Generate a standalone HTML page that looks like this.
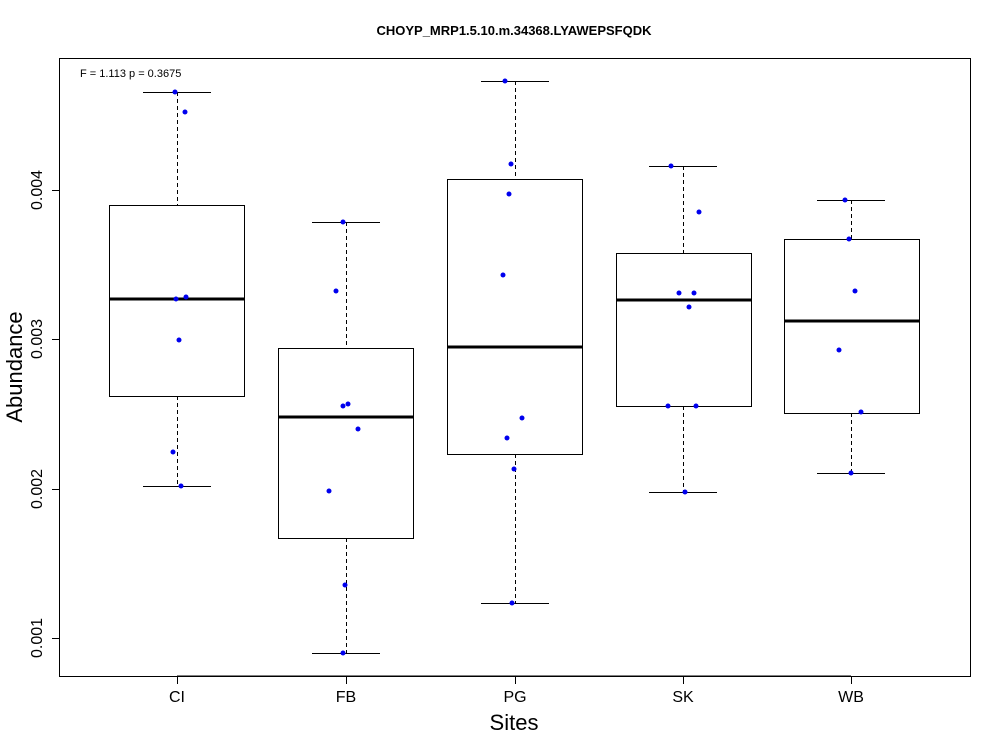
<!DOCTYPE html>
<html><head><style>body{margin:0;background:#fff}svg{display:block}text{font-family:"Liberation Sans",Arial,sans-serif}</style></head>
<body>
<svg width="1000" height="750" viewBox="0 0 1000 750">
<rect x="0" y="0" width="1000" height="750" fill="#fff"/>
<text x="514" y="35" text-anchor="middle" font-size="13" font-weight="bold">CHOYP_MRP1.5.10.m.34368.LYAWEPSFQDK</text>
<rect x="59.5" y="58.5" width="911" height="618" fill="none" stroke="#000" stroke-width="1"/>
<text x="80" y="77" font-size="11">F = 1.113 p = 0.3675</text>
<!-- y axis -->
<g stroke="#000" stroke-width="1">
<line x1="59.5" y1="190" x2="59.5" y2="638"/>
<line x1="52" y1="190.5" x2="59.5" y2="190.5"/>
<line x1="52" y1="339.5" x2="59.5" y2="339.5"/>
<line x1="52" y1="489.5" x2="59.5" y2="489.5"/>
<line x1="52" y1="638.5" x2="59.5" y2="638.5"/>
</g>
<g font-size="16">
<text transform="translate(42,190) rotate(-90)" text-anchor="middle">0.004</text>
<text transform="translate(42,339) rotate(-90)" text-anchor="middle">0.003</text>
<text transform="translate(42,489) rotate(-90)" text-anchor="middle">0.002</text>
<text transform="translate(42,638) rotate(-90)" text-anchor="middle">0.001</text>
</g>
<text transform="translate(22,367) rotate(-90)" text-anchor="middle" font-size="22">Abundance</text>
<!-- x axis -->
<g stroke="#000" stroke-width="1">
<line x1="177" y1="676" x2="851" y2="676"/>
<line x1="177.5" y1="676" x2="177.5" y2="684"/>
<line x1="346.5" y1="676" x2="346.5" y2="684"/>
<line x1="515.5" y1="676" x2="515.5" y2="684"/>
<line x1="683.5" y1="676" x2="683.5" y2="684"/>
<line x1="851.5" y1="676" x2="851.5" y2="684"/>
</g>
<g font-size="16" text-anchor="middle">
<text x="177" y="702">CI</text><text x="346" y="702">FB</text><text x="515" y="702">PG</text><text x="683" y="702">SK</text><text x="851" y="702">WB</text>
</g>
<text x="514" y="730" text-anchor="middle" font-size="22">Sites</text>
<!-- boxes -->
<g stroke="#000" stroke-width="1" fill="none">
<g><line x1="177.5" y1="92" x2="177.5" y2="205" stroke-dasharray="4,3"/><line x1="177.5" y1="396" x2="177.5" y2="486" stroke-dasharray="4,3"/>
<line x1="143" y1="92.5" x2="211" y2="92.5"/><line x1="143" y1="486.5" x2="211" y2="486.5"/>
<rect x="109.5" y="205.5" width="135" height="191"/><line x1="109" y1="299" x2="245" y2="299" stroke-width="3"/></g>
<g><line x1="346.5" y1="222" x2="346.5" y2="348" stroke-dasharray="4,3"/><line x1="346.5" y1="538" x2="346.5" y2="653" stroke-dasharray="4,3"/>
<line x1="312" y1="222.5" x2="380" y2="222.5"/><line x1="312" y1="653.5" x2="380" y2="653.5"/>
<rect x="278.5" y="348.5" width="135" height="190"/><line x1="278" y1="417" x2="414" y2="417" stroke-width="3"/></g>
<g><line x1="515.5" y1="81" x2="515.5" y2="179" stroke-dasharray="4,3"/><line x1="515.5" y1="454" x2="515.5" y2="603" stroke-dasharray="4,3"/>
<line x1="481" y1="81.5" x2="549" y2="81.5"/><line x1="481" y1="603.5" x2="549" y2="603.5"/>
<rect x="447.5" y="179.5" width="135" height="275"/><line x1="447" y1="347" x2="583" y2="347" stroke-width="3"/></g>
<g><line x1="683.5" y1="166" x2="683.5" y2="253" stroke-dasharray="4,3"/><line x1="683.5" y1="406" x2="683.5" y2="492" stroke-dasharray="4,3"/>
<line x1="649" y1="166.5" x2="717" y2="166.5"/><line x1="649" y1="492.5" x2="717" y2="492.5"/>
<rect x="616.5" y="253.5" width="135" height="153"/><line x1="616" y1="300" x2="752" y2="300" stroke-width="3"/></g>
<g><line x1="851.5" y1="200" x2="851.5" y2="239" stroke-dasharray="4,3"/><line x1="851.5" y1="413" x2="851.5" y2="473" stroke-dasharray="4,3"/>
<line x1="817" y1="200.5" x2="885" y2="200.5"/><line x1="817" y1="473.5" x2="885" y2="473.5"/>
<rect x="784.5" y="239.5" width="135" height="174"/><line x1="784" y1="321" x2="920" y2="321" stroke-width="3"/></g>
</g>
<g fill="#0000ee">
<circle cx="175" cy="92" r="2.5"/><circle cx="185" cy="112" r="2.5"/><circle cx="176" cy="299" r="2.5"/><circle cx="186" cy="297" r="2.5"/><circle cx="179" cy="340" r="2.5"/><circle cx="173" cy="452" r="2.5"/><circle cx="181" cy="486" r="2.5"/>
<circle cx="343" cy="222" r="2.5"/><circle cx="336" cy="291" r="2.5"/><circle cx="343" cy="406" r="2.5"/><circle cx="348" cy="404" r="2.5"/><circle cx="358" cy="429" r="2.5"/><circle cx="329" cy="491" r="2.5"/><circle cx="345" cy="585" r="2.5"/><circle cx="343" cy="653" r="2.5"/>
<circle cx="505" cy="81" r="2.5"/><circle cx="511" cy="164" r="2.5"/><circle cx="509" cy="194" r="2.5"/><circle cx="503" cy="275" r="2.5"/><circle cx="522" cy="418" r="2.5"/><circle cx="507" cy="438" r="2.5"/><circle cx="514" cy="469" r="2.5"/><circle cx="512" cy="603" r="2.5"/>
<circle cx="671" cy="166" r="2.5"/><circle cx="699" cy="212" r="2.5"/><circle cx="679" cy="293" r="2.5"/><circle cx="694" cy="293" r="2.5"/><circle cx="689" cy="307" r="2.5"/><circle cx="668" cy="406" r="2.5"/><circle cx="696" cy="406" r="2.5"/><circle cx="685" cy="492" r="2.5"/>
<circle cx="845" cy="200" r="2.5"/><circle cx="849" cy="239" r="2.5"/><circle cx="855" cy="291" r="2.5"/><circle cx="839" cy="350" r="2.5"/><circle cx="861" cy="412" r="2.5"/><circle cx="851" cy="473" r="2.5"/>
</g>
</svg>
</body></html>
